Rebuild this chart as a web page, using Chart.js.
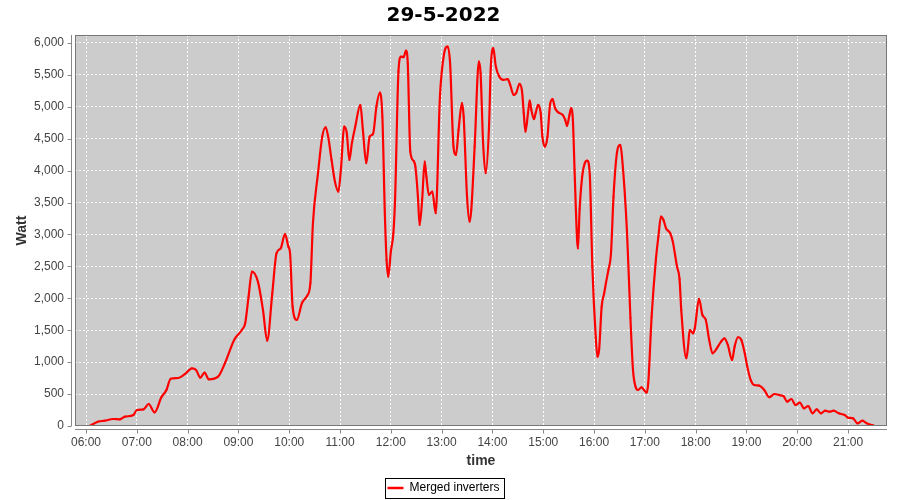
<!DOCTYPE html>
<html>
<head>
<meta charset="utf-8">
<title>29-5-2022</title>
<script src="https://cdn.jsdelivr.net/npm/chart.js@4.4.1/dist/chart.umd.min.js"></script>
<style>
    html, body { margin: 0; padding: 0; background: #ffffff; }
    #wrap { width: 900px; height: 500px; }
</style>
</head>
<body>
<div id="wrap"><canvas id="graficoPotencia" width="900" height="500"></canvas></div>
<script>
const chartTitle = "29-5-2022";
const seriesName = "Merged inverters";

// hora de la lectura
const times = [
    "06:04","06:14","06:22","06:32","06:40","06:46","06:56","07:00","07:08","07:14",
    "07:21","07:29","07:35","07:40","07:49","07:57","08:05","08:10","08:15","08:20",
    "08:25","08:36","08:44","08:55","09:04","09:08","09:12","09:16","09:23","09:29",
    "09:34","09:40","09:45","09:50","09:55","09:59","10:01","10:04","10:09","10:15",
    "10:21","10:25","10:28","10:34","10:39","10:43","10:46","10:50","10:54","10:58",
    "11:01","11:05","11:08","11:11","11:14","11:18","11:24","11:27","11:31","11:35",
    "11:39","11:43","11:47","11:50","11:53","11:55","11:57","12:00","12:03","12:05",
    "12:09","12:12","12:15","12:18","12:20","12:23","12:27","12:29","12:32","12:34",
    "12:37","12:40","12:42","12:45","12:49","12:53","12:58","13:03","13:07","13:10",
    "13:14","13:17","13:20","13:24","13:26","13:30","13:33","13:35","13:39","13:44",
    "13:46","13:49","13:52","13:56","13:58","14:01","14:04","14:08","14:13","14:18",
    "14:21","14:25","14:28","14:32","14:35","14:37","14:39","14:42","14:44","14:46",
    "14:49","14:51","14:54","14:57","14:59","15:02","15:05","15:08","15:11","15:14",
    "15:18","15:23","15:26","15:28","15:31","15:33","15:35","15:37","15:40","15:41",
    "15:43","15:46","15:49","15:52","15:55","15:58","16:02","16:04","16:06","16:09",
    "16:12","16:14","16:17","16:20","16:23","16:27","16:31","16:33","16:39","16:43",
    "16:46","16:49","16:52","16:56","16:59","17:02","17:04","17:08","17:13","17:16",
    "17:19","17:22","17:25","17:30","17:33","17:38","17:41","17:43","17:49","17:51",
    "17:53","17:57","17:59","18:04","18:08","18:12","18:16","18:20","18:25","18:30",
    "18:34","18:38","18:43","18:46","18:50","18:54","18:58","19:01","19:05","19:09",
    "19:15","19:21","19:27","19:33","19:40","19:44","19:48","19:53","19:58","20:03",
    "20:08","20:13","20:18","20:23","20:28","20:33","20:38","20:43","20:49","20:56",
    "21:00","21:06","21:11","21:17","21:22","21:28","21:30"
];

// potencia en Watt
const watts = [
    0, 67, 83, 110, 105, 146, 172, 250, 261, 345,
    214, 450, 564, 741, 752, 815, 904, 877, 757, 836,
    731, 773, 982, 1348, 1504, 1609, 2026, 2418, 2261, 1818,
    1337, 2079, 2706, 2784, 3008, 2810, 2706, 1870, 1661, 1923,
    2037, 2236, 3176, 3960, 4533, 4680, 4533, 4168, 3828, 3672,
    4011, 4690, 4586, 4168, 4430, 4690, 5030, 4638, 4116, 4533,
    4576, 5004, 5223, 4847, 3300, 2600, 2340, 2730, 3020, 3541,
    5550, 5787, 5777, 5881, 5683, 4298, 4152, 4063, 3593, 3150,
    3541, 4142, 3907, 3620, 3672, 3333, 5160, 5840, 5944, 5683,
    4377, 4247, 4638, 5057, 4847, 3593, 3202, 3385, 4377, 5709,
    5527, 4430, 3960, 4700, 5600, 5918, 5631, 5474, 5422, 5433,
    5344, 5187, 5213, 5359, 5239, 4900, 4612, 4900, 5098, 4952,
    4806, 4900, 5030, 4900, 4533, 4377, 4533, 5030, 5119, 4978,
    4910, 4873, 4795, 4701, 4873, 4978, 4795, 4011, 2915, 2784,
    3400, 3907, 4116, 4157, 3930, 2496, 1399, 1086, 1191, 1870,
    2079, 2236, 2445, 2706, 3593, 4273, 4403, 4220, 3020, 1688,
    878, 616, 564, 606, 564, 522, 669, 1713, 2601, 2966,
    3280, 3228, 3098, 3020, 2888, 2496, 2300, 1818, 1061, 1243,
    1504, 1452, 1531, 1990, 1739, 1661, 1348, 1139, 1217, 1321,
    1374, 1269, 1034, 1243, 1390, 1348, 1139, 930, 721, 642,
    632, 564, 450, 501, 480, 465, 381, 423, 329, 365,
    277, 313, 199, 261, 199, 240, 224, 240, 199, 172,
    130, 120, 42, 83, 42, 16, 10
];

const hourTicks = ["06:00","07:00","08:00","09:00","10:00","11:00","12:00","13:00",
                   "14:00","15:00","16:00","17:00","18:00","19:00","20:00","21:00"];
const wattTicks = [0, 500, 1000, 1500, 2000, 2500, 3000, 3500, 4000, 4500, 5000, 5500, 6000];

const xMin = "05:47";
const xMax = "21:46";
const yMax = 6125;

function toMinutes(hhmm){
    const p = hhmm.split(":");
    return parseInt(p[0], 10) * 60 + parseInt(p[1], 10);
}

function toHHMM(min){
    const h = Math.floor(min / 60);
    const m = Math.round(min - h * 60);
    return String(h).padStart(2, "0") + ":" + String(m).padStart(2, "0");
}

const points = times.map(function(t, i){
    return { x: toMinutes(t), y: watts[i] };
});

const plotBg = "#cccccc";
const axisColor = "#888888";
const textColor = "#444444";

// fondo gris del area, borde y ejes desplazados como en JFreeChart
const plotFrame = {
    id: "plotFrame",
    beforeDraw(chart){
        const ctx = chart.ctx;
        const a = chart.chartArea;
        ctx.save();
        ctx.fillStyle = "#ffffff";
        ctx.fillRect(0, 0, chart.width, chart.height);
        ctx.fillStyle = plotBg;
        ctx.fillRect(a.left, a.top, a.right - a.left, a.bottom - a.top);
        ctx.restore();
    },
    afterDraw(chart){
        const ctx = chart.ctx;
        const a = chart.chartArea;
        const xs = chart.scales.x;
        const ys = chart.scales.y;
        ctx.save();
        ctx.lineWidth = 1;
        ctx.strokeStyle = "#777777";
        ctx.strokeRect(a.left + 0.5, a.top + 0.5, a.right - a.left - 1, a.bottom - a.top - 1);

        ctx.strokeStyle = axisColor;
        ctx.beginPath();
        const ax = Math.round(a.left - 4) + 0.5;
        ctx.moveTo(ax, a.top);
        ctx.lineTo(ax, a.bottom);
        ys.ticks.forEach(function(t){
            const py = Math.round(ys.getPixelForValue(t.value)) + 0.5;
            ctx.moveTo(ax - 4, py);
            ctx.lineTo(ax, py);
        });
        const ay = Math.round(a.bottom + 3) + 0.5;
        ctx.moveTo(a.left, ay);
        ctx.lineTo(a.right, ay);
        xs.ticks.forEach(function(t){
            const px = Math.round(xs.getPixelForValue(t.value)) + 0.5;
            ctx.moveTo(px, ay);
            ctx.lineTo(px, ay + 4);
        });
        ctx.stroke();

        // recuadro de la leyenda
        const box = chart.legend.legendHitBoxes[0];
        if (box){
            ctx.strokeStyle = "#000000";
            ctx.strokeRect(Math.round(box.left - 2) + 0.5, Math.round(box.top - 4) + 0.5,
                           Math.round(box.width + 7), Math.round(box.height + 8));
        }
        ctx.restore();
    }
};

Chart.defaults.font.family = "'Liberation Sans', 'DejaVu Sans', sans-serif";
Chart.defaults.color = textColor;

new Chart(document.getElementById("graficoPotencia"), {
    type: "line",
    plugins: [plotFrame],
    data: {
        datasets: [{
            label: seriesName,
            data: points,
            borderColor: "#ff0000",
            backgroundColor: "#ff0000",
            borderWidth: 2.2,
            pointRadius: 1.2,
            pointHoverRadius: 1.2,
            pointBorderWidth: 0,
            pointStyle: "rect",
            cubicInterpolationMode: "monotone",
            fill: false
        }]
    },
    options: {
        responsive: false,
        animation: false,
        layout: { padding: { left: 0, right: 13, top: 0, bottom: -4 } },
        plugins: {
            title: {
                display: true,
                text: chartTitle,
                color: "#000000",
                font: { family: "'DejaVu Sans', sans-serif", size: 20, weight: "bold" },
                padding: { top: 4, bottom: 7 }
            },
            legend: {
                display: true,
                position: "bottom",
                labels: {
                    color: textColor,
                    font: { size: 12 },
                    usePointStyle: true,
                    pointStyle: "line",
                    pointStyleWidth: 16,
                    boxHeight: 12,
                    padding: 8,
                    generateLabels: function(chart){
                        return [{
                            text: seriesName,
                            fillStyle: "#ff0000",
                            strokeStyle: "#ff0000",
                            lineWidth: 2.5,
                            pointStyle: "line",
                            datasetIndex: 0
                        }];
                    }
                }
            },
            tooltip: { enabled: false }
        },
        scales: {
            x: {
                type: "linear",
                min: toMinutes(xMin),
                max: toMinutes(xMax),
                afterBuildTicks: function(scale){
                    scale.ticks = hourTicks.map(function(h){ return { value: toMinutes(h) }; });
                },
                afterFit: function(scale){ scale.height = 48; },
                ticks: {
                    color: textColor,
                    font: { size: 12 },
                    padding: 9,
                    maxRotation: 0,
                    autoSkip: false,
                    callback: function(v){ return toHHMM(v); }
                },
                grid: { color: "#ffffff", lineWidth: 1, drawTicks: false },
                border: { display: false, dash: [2, 2] },
                title: {
                    display: true,
                    text: "time",
                    color: "#333333",
                    font: { size: 14, weight: "bold" },
                    padding: { top: 2, bottom: 4 }
                }
            },
            y: {
                type: "linear",
                min: 0,
                max: yMax,
                afterBuildTicks: function(scale){
                    scale.ticks = wattTicks.map(function(v){ return { value: v }; });
                },
                afterFit: function(scale){ scale.width = 75; },
                ticks: {
                    color: textColor,
                    font: { size: 12 },
                    padding: 11,
                    callback: function(v){ return new Intl.NumberFormat("en-US").format(v); }
                },
                grid: { color: "#ffffff", lineWidth: 1, drawTicks: false },
                border: { display: false, dash: [2, 2] },
                title: {
                    display: true,
                    text: "Watt",
                    color: "#333333",
                    font: { size: 14, weight: "bold" },
                    padding: { top: 14, bottom: 4 }
                }
            }
        }
    }
});
</script>
</body>
</html>
